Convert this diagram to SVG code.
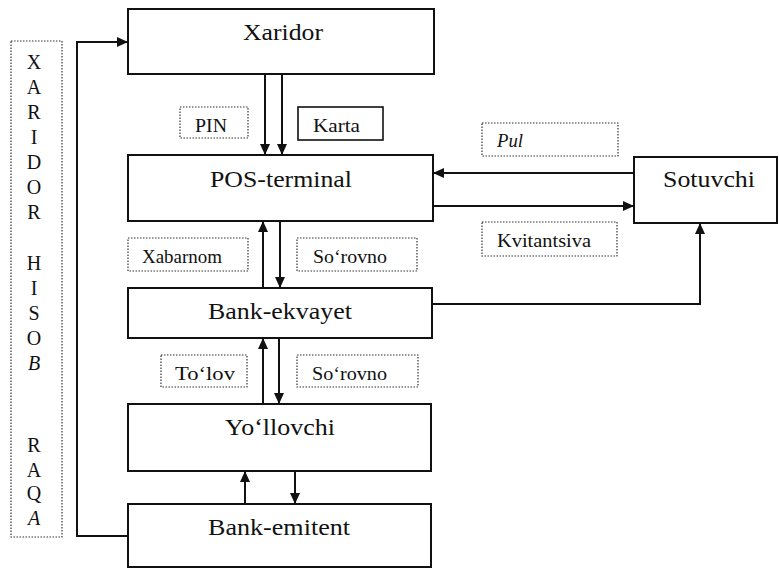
<svg xmlns="http://www.w3.org/2000/svg" width="780" height="570" viewBox="0 0 780 570">
  <style>
    text { font-family: "Liberation Serif", "Liberation Sans", sans-serif; fill: #111; }
    .node { fill: #fff; stroke: #111; stroke-width: 2; }
    .ntext { font-size: 23px; }
    .lbl { fill: none; stroke: #333; stroke-width: 1.2; stroke-dasharray: 1.5 1.5; }
    .lbl-solid { fill: none; stroke: #111; stroke-width: 1.6; }
    .ltext { font-size: 18px; }
    .vtext { font-size: 20px; text-anchor: middle; }
    .conn { fill: none; stroke: #111; stroke-width: 2; marker-end: url(#arrow); }
  </style>
  <defs>
    <marker id="arrow" markerUnits="userSpaceOnUse" markerWidth="11" markerHeight="10" refX="11" refY="5" orient="auto">
      <path d="M0,0 L11,5 L0,10 z" fill="#111"/>
    </marker>
  </defs>
  <rect width="780" height="570" fill="#fff"/>

  <!-- vertical caption column -->
  <g id="side-caption">
    <rect class="lbl" x="11" y="41" width="51" height="496"/>
    <text class="vtext" x="34" y="69">X</text>
    <text class="vtext" x="34" y="94">A</text>
    <text class="vtext" x="34" y="119">R</text>
    <text class="vtext" x="34" y="144">I</text>
    <text class="vtext" x="34" y="169">D</text>
    <text class="vtext" x="34" y="194">O</text>
    <text class="vtext" x="34" y="219">R</text>
    <text class="vtext" x="34" y="270">H</text>
    <text class="vtext" x="34" y="295">I</text>
    <text class="vtext" x="34" y="320">S</text>
    <text class="vtext" x="34" y="345">O</text>
    <text class="vtext" x="34" y="370" font-style="italic">B</text>
    <text class="vtext" x="34" y="452">R</text>
    <text class="vtext" x="34" y="477">A</text>
    <text class="vtext" x="34" y="500">Q</text>
    <text class="vtext" x="34" y="525" font-style="italic">A</text>
  </g>

  <!-- nodes -->
  <g id="xaridor">
    <rect class="node" x="128" y="9" width="306" height="65"/>
    <text class="ntext" x="243" y="40" textLength="80" lengthAdjust="spacingAndGlyphs">Xaridor</text>
  </g>
  <g id="pos-terminal">
    <rect class="node" x="128" y="155" width="305" height="66"/>
    <text class="ntext" x="210" y="187" textLength="142" lengthAdjust="spacingAndGlyphs">POS-terminal</text>
  </g>
  <g id="sotuvchi">
    <rect class="node" x="634" y="157" width="143" height="66"/>
    <text class="ntext" x="663" y="187" textLength="92" lengthAdjust="spacingAndGlyphs">Sotuvchi</text>
  </g>
  <g id="bank-ekvayet">
    <rect class="node" x="128" y="288" width="304" height="50"/>
    <text class="ntext" x="208" y="319" textLength="144" lengthAdjust="spacingAndGlyphs">Bank-ekvayet</text>
  </g>
  <g id="yollovchi">
    <rect class="node" x="128" y="404" width="303" height="67"/>
    <text class="ntext" x="225" y="435" textLength="110" lengthAdjust="spacingAndGlyphs">Yo‘llovchi</text>
  </g>
  <g id="bank-emitent">
    <rect class="node" x="128" y="504" width="303" height="63"/>
    <text class="ntext" x="208" y="535" textLength="142" lengthAdjust="spacingAndGlyphs">Bank-emitent</text>
  </g>

  <!-- flow labels -->
  <g id="label-pin">
    <rect class="lbl" x="180" y="107" width="68" height="31"/>
    <text class="ltext" x="195" y="132" textLength="32" lengthAdjust="spacingAndGlyphs">PIN</text>
  </g>
  <g id="label-karta">
    <rect class="lbl-solid" x="298" y="107" width="85" height="33"/>
    <text class="ltext" x="313" y="132" textLength="47" lengthAdjust="spacingAndGlyphs">Karta</text>
  </g>
  <g id="label-pul">
    <rect class="lbl" x="482" y="123" width="136" height="33"/>
    <text class="ltext" x="497" y="147" font-style="italic" textLength="26" lengthAdjust="spacingAndGlyphs">Pul</text>
  </g>
  <g id="label-kvitantsiva">
    <rect class="lbl" x="482" y="222" width="135" height="34"/>
    <text class="ltext" x="497" y="247" textLength="94" lengthAdjust="spacingAndGlyphs">Kvitantsiva</text>
  </g>
  <g id="label-xabarnom">
    <rect class="lbl" x="128" y="238" width="120" height="33"/>
    <text class="ltext" x="142" y="263" textLength="80" lengthAdjust="spacingAndGlyphs">Xabarnom</text>
  </g>
  <g id="label-sorovno-1">
    <rect class="lbl" x="297" y="238" width="120" height="33"/>
    <text class="ltext" x="313" y="263" textLength="74" lengthAdjust="spacingAndGlyphs">So‘rovno</text>
  </g>
  <g id="label-tolov">
    <rect class="lbl" x="161" y="355" width="86" height="32"/>
    <text class="ltext" x="175" y="380" textLength="60" lengthAdjust="spacingAndGlyphs">To‘lov</text>
  </g>
  <g id="label-sorovno-2">
    <rect class="lbl" x="297" y="355" width="121" height="32"/>
    <text class="ltext" x="312" y="380" textLength="75" lengthAdjust="spacingAndGlyphs">So‘rovno</text>
  </g>

  <!-- connectors -->
  <g id="connectors">
    <path class="conn" d="M265,74 L265,155"/>
    <path class="conn" d="M282,74 L282,155"/>
    <path class="conn" d="M634,173 L433,173"/>
    <path class="conn" d="M433,206 L634,206"/>
    <path class="conn" d="M263,288 L263,221"/>
    <path class="conn" d="M280,221 L280,288"/>
    <path class="conn" d="M432,304 L700,304 L700,223"/>
    <path class="conn" d="M263,404 L263,338"/>
    <path class="conn" d="M279,338 L279,404"/>
    <path class="conn" d="M245,504 L245,471"/>
    <path class="conn" d="M295,471 L295,504"/>
    <path class="conn" d="M128,536 L77,536 L77,42 L128,42"/>
  </g>
</svg>
